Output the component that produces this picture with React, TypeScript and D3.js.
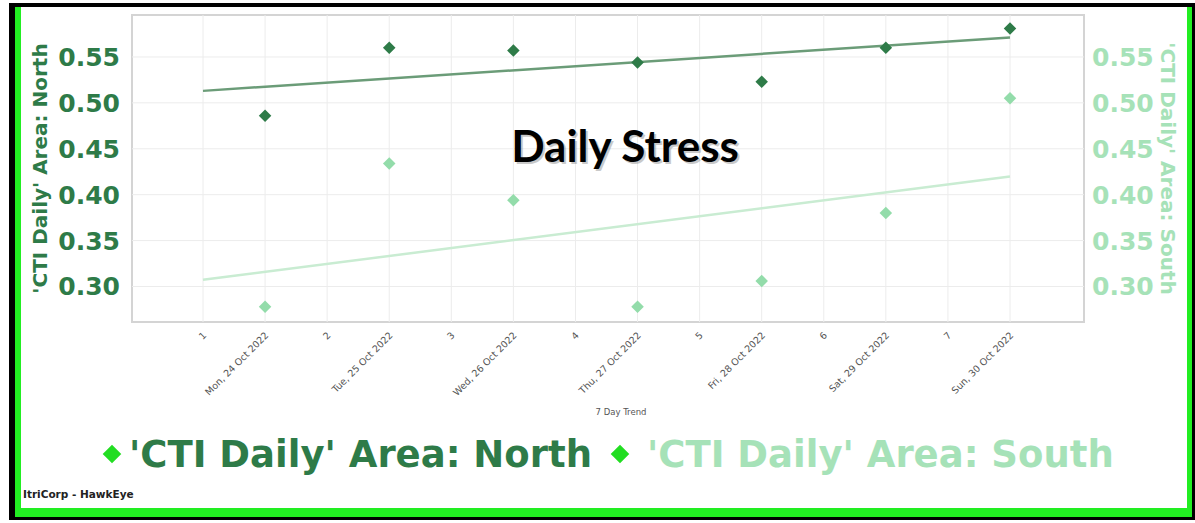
import React from "react";
import * as d3 from "d3";

const xLabels = [
  "1", "Mon, 24 Oct 2022",
  "2", "Tue, 25 Oct 2022",
  "3", "Wed, 26 Oct 2022",
  "4", "Thu, 27 Oct 2022",
  "5", "Fri, 28 Oct 2022",
  "6", "Sat, 29 Oct 2022",
  "7", "Sun, 30 Oct 2022",
];
const days = [
  "Mon, 24 Oct 2022", "Tue, 25 Oct 2022", "Wed, 26 Oct 2022", "Thu, 27 Oct 2022",
  "Fri, 28 Oct 2022", "Sat, 29 Oct 2022", "Sun, 30 Oct 2022",
];
const northValues = [0.486, 0.560, 0.557, 0.544, 0.523, 0.560, 0.581];
const southValues = [0.278, 0.434, 0.394, 0.278, 0.306, 0.380, 0.505];
const yTicks = [0.3, 0.35, 0.4, 0.45, 0.5, 0.55];
const northName = "'CTI Daily' Area: North";
const southName = "'CTI Daily' Area: South";
const chartTitle = "Daily Stress";
const xTitle = "7 Day Trend";
const footer = "ItriCorp - HawkEye";

const W = 1195, H = 523;
const plot = { left: 132, right: 1084, top: 15, bottom: 322 };
const NORTH = "#2e7b48";
const NORTH_TREND = "#6b9c78";
const SOUTH = "#93dcaa";
const SOUTH_TREND = "#c9ecd2";
const SOUTH_TXT = "#a6e2b8";

function trend(values: number[], xs: number[]) {
  const mx = d3.mean(xs)!, my = d3.mean(values)!;
  let num = 0, den = 0;
  xs.forEach((x, i) => { num += (x - mx) * (values[i] - my); den += (x - mx) * (x - mx); });
  const b = num / den;
  const a = my - b * mx;
  return (x: number) => a + b * x;
}

export default function App() {
  const x = d3.scalePoint<string>().domain(xLabels).range([203, 1010]);
  const yL = d3.scaleLinear().domain([0.2613, 0.5957]).range([plot.bottom, plot.top]);
  const yR = d3.scaleLinear().domain([0.2613, 0.5957]).range([plot.bottom, plot.top]);
  const dType = (d3 as any).symbolDiamond2 || d3.symbolDiamond;
  const diamond = d3.symbol().type(dType).size(100)();
  const legendDiamond = d3.symbol().type(dType).size(220)();

  const dayIdx = days.map((d) => xLabels.indexOf(d));
  const tN = trend(northValues, dayIdx);
  const tS = trend(southValues, dayIdx);
  const t0 = 0, t1 = xLabels.length - 1;
  const trendPath = (f: (t: number) => number, y: d3.ScaleLinear<number, number>) =>
    d3.line<number>().x((t) => x(xLabels[t])!).y((t) => y(f(t)))([t0, t1]) || "";

  const plotCy = (plot.top + plot.bottom) / 2;

  return (
    <svg width={W} height={H} style={{ position: "absolute", left: 0, top: 0, background: "#fff" }}
      fontFamily="'DejaVu Sans', Verdana, sans-serif">
      {/* frame */}
      <rect x={9} y={3} width={W - 9} height={517} fill="#000" />
      <rect x={15} y={7} width={W - 15 - 3} height={510} fill="#22ee22" />
      <rect x={21} y={7} width={W - 21 - 8} height={501} fill="#fff" />

      {/* plot background + grid */}
      <rect x={plot.left} y={plot.top} width={plot.right - plot.left} height={plot.bottom - plot.top}
        fill="#fff" stroke="#d4d4d4" strokeWidth={2} />
      {xLabels.map((l) => (
        <line key={"gx" + l} x1={x(l)} x2={x(l)} y1={plot.top} y2={plot.bottom} stroke="#ececec" strokeWidth={1} />
      ))}
      {yTicks.map((t) => (
        <line key={"gy" + t} x1={plot.left} x2={plot.right} y1={yL(t)} y2={yL(t)} stroke="#ececec" strokeWidth={1} />
      ))}

      {/* trend lines */}
      <path d={trendPath(tS, yR)} stroke={SOUTH_TREND} strokeWidth={2.5} fill="none" />
      <path d={trendPath(tN, yL)} stroke={NORTH_TREND} strokeWidth={2.5} fill="none" />

      {/* points */}
      {southValues.map((v, i) => (
        <path key={"s" + i} d={diamond} transform={`translate(${x(days[i])},${yR(v)})`} fill={SOUTH} />
      ))}
      {northValues.map((v, i) => (
        <path key={"n" + i} d={diamond} transform={`translate(${x(days[i])},${yL(v)})`} fill={NORTH} />
      ))}

      {/* left axis */}
      {yTicks.map((t) => (
        <text key={"yl" + t} x={plot.left - 12} y={yL(t)} dy="0.36em" textAnchor="end"
          fontSize={25} fontWeight="bold" fill={NORTH}>{d3.format(".2f")(t)}</text>
      ))}
      <text transform={`translate(47,${plotCy}) rotate(-90)`} textAnchor="middle" fontSize={20}
        fontWeight="bold" fill={NORTH}>{northName}</text>

      {/* right axis */}
      {yTicks.map((t) => (
        <text key={"yr" + t} x={plot.right + 8} y={yR(t)} dy="0.36em" textAnchor="start"
          fontSize={25} fontWeight="bold" fill={SOUTH_TXT}>{d3.format(".2f")(t)}</text>
      ))}
      <text transform={`translate(1161,${plotCy}) rotate(90)`} textAnchor="middle" fontSize={20}
        fontWeight="bold" fill={SOUTH_TXT}>{southName}</text>

      {/* x axis labels */}
      {xLabels.map((l) => (
        <text key={"xl" + l} transform={`translate(${x(l)! + 4},${plot.bottom + 14}) rotate(-45)`}
          textAnchor="end" fontSize={9.5} fill="#555">{l}</text>
      ))}
      <text x={621} y={415} textAnchor="middle" fontSize={8.5} fill="#555">{xTitle}</text>

      {/* title */}
      <text x={627} y={164} textAnchor="middle" fontFamily="Lato, 'Open Sans', sans-serif" fontWeight="bold"
        fontSize={44} fill="#888" opacity={0.45}>{chartTitle}</text>
      <text x={625} y={162} textAnchor="middle" fontFamily="Lato, 'Open Sans', sans-serif" fontWeight="bold"
        fontSize={44} fill="#000">{chartTitle}</text>

      {/* legend */}
      <path d={legendDiamond} transform="translate(112,454)" fill="#22dd22" />
      <text x={129} y={467} fontSize={37} fontWeight="bold" fill={NORTH}>{northName}</text>
      <path d={legendDiamond} transform="translate(620,454)" fill="#22dd22" />
      <text x={647} y={467} fontSize={37} fontWeight="bold" fill={SOUTH_TXT}>{southName}</text>

      <text x={23} y={498} fontSize={10.5} fontWeight="bold" fill="#222">{footer}</text>
    </svg>
  );
}
